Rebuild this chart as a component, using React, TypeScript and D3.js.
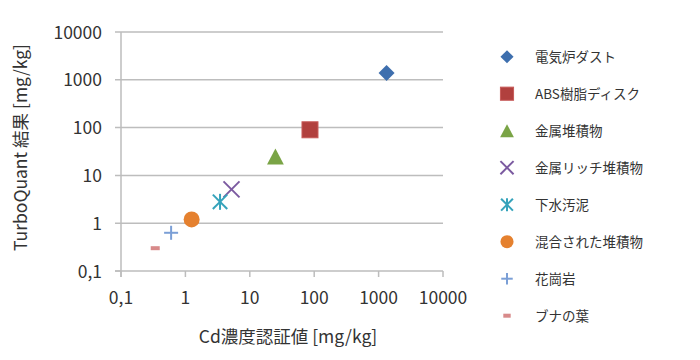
import React from 'react';
import * as d3 from 'd3';

// sample names (legend order)
const names = ['電気炉ダスト', 'ABS樹脂ディスク', '金属堆積物', '金属リッチ堆積物', '下水汚泥', '混合された堆積物', '花崗岩', 'ブナの葉'];
// certified Cd value [mg/kg]
const certified = [1330, 86, 25, 5.2, 3.45, 1.25, 0.6, 0.34];
// TurboQuant result [mg/kg]
const measured = [1380, 90, 25, 5.1, 2.8, 1.2, 0.63, 0.3];
const markers = ['diamond', 'square', 'triangle', 'x', 'star', 'circle', 'plus', 'dash'];
const colors = ['#3e6fae', '#b1403e', '#7aa446', '#7b5aa0', '#35a3bb', '#e5812f', '#7b9fd6', '#d88a8a'];
const tickValues = [0.1, 1, 10, 100, 1000, 10000];
const tickLabels = ['0,1', '1', '10', '100', '1000', '10000'];

const FONT = '"Noto Sans CJK JP", "Noto Sans", sans-serif';
const GRID = '#bdbdbd';

const Marker: React.FC<{ kind: string; color: string; x: number; y: number; s: number }> = ({ kind, color, x, y, s }) => {
  const h = s / 2;
  const t = `translate(${x},${y})`;
  switch (kind) {
    case 'diamond':
      return <path transform={t} d={`M0,${-h}L${h},0L0,${h}L${-h},0Z`} fill={color} />;
    case 'square':
      return <rect transform={t} x={-h} y={-h} width={s} height={s} fill={color} stroke="#c75a58" strokeWidth={1} />;
    case 'triangle':
      return <path transform={t} d={`M0,${-h}L${h * 1.05},${h}L${-h * 1.05},${h}Z`} fill={color} />;
    case 'x':
      return (
        <g transform={t} stroke={color} strokeWidth={2}>
          <line x1={-h} y1={-h} x2={h} y2={h} />
          <line x1={-h} y1={h} x2={h} y2={-h} />
        </g>
      );
    case 'star':
      return (
        <g transform={t} stroke={color} strokeWidth={2}>
          <line x1={-h * 0.9} y1={-h * 0.9} x2={h * 0.9} y2={h * 0.9} />
          <line x1={-h * 0.9} y1={h * 0.9} x2={h * 0.9} y2={-h * 0.9} />
          <line x1={0} y1={-h} x2={0} y2={h} />
        </g>
      );
    case 'circle':
      return <circle transform={t} r={h} fill={color} />;
    case 'plus':
      return (
        <g transform={t} stroke={color} strokeWidth={2}>
          <line x1={-h} y1={0} x2={h} y2={0} />
          <line x1={0} y1={-h} x2={0} y2={h} />
        </g>
      );
    default:
      return <rect transform={t} x={-h * 0.6} y={-2} width={h * 1.2} height={4} fill={color} />;
  }
};

const sizes = [16, 16, 16, 16, 16, 16, 14, 15];

export default function App() {
  const x = d3.scaleLog().domain([0.1, 10000]).range([121, 443]);
  const y = d3.scaleLog().domain([0.1, 10000]).range([271, 32]);

  return (
    <svg width={700} height={360} style={{ position: 'absolute', left: 0, top: 0, fontFamily: FONT }}>
      <rect width={700} height={360} fill="#fff" />
      {tickValues.map((v, i) => (
        <g key={'g' + i}>
          {i > 0 && <line x1={115} x2={443} y1={y(v)} y2={y(v)} stroke={GRID} strokeWidth={1.5} />}
          {i === 0 && <line x1={115} x2={121} y1={y(v)} y2={y(v)} stroke={GRID} strokeWidth={1.5} />}
          <text x={102} y={y(v) + 6.5} textAnchor="end" fontSize={17.5} fill="#333">{tickLabels[i]}</text>
          <line x1={x(v)} x2={x(v)} y1={271} y2={277} stroke={GRID} strokeWidth={1.5} />
          <text x={x(v)} y={304} textAnchor="middle" fontSize={17.5} fill="#333">{tickLabels[i]}</text>
        </g>
      ))}
      <line x1={121} x2={121} y1={32} y2={277} stroke={GRID} strokeWidth={1.5} />
      <line x1={115} x2={443} y1={271} y2={271} stroke={GRID} strokeWidth={1.5} />

      {names.map((n, i) => (
        <Marker key={'m' + i} kind={markers[i]} color={colors[i]} x={x(certified[i])} y={y(measured[i])} s={sizes[i]} />
      ))}

      <text x={288} y={343} textAnchor="middle" fontSize={17.5} fill="#333">Cd濃度認証値 [mg/kg]</text>
      <text transform="translate(27,147.5) rotate(-90)" textAnchor="middle" fontSize={17.5} fill="#333">TurboQuant 結果 [mg/kg]</text>

      {names.map((n, i) => {
        const cy = 56.7 + i * 37;
        return (
          <g key={'l' + i}>
            <Marker kind={markers[i]} color={colors[i]} x={507} y={cy} s={sizes[i] * 0.82} />
            <text x={535} y={cy + 5} fontSize={13.5} fill="#333">{n}</text>
          </g>
        );
      })}
    </svg>
  );
}
